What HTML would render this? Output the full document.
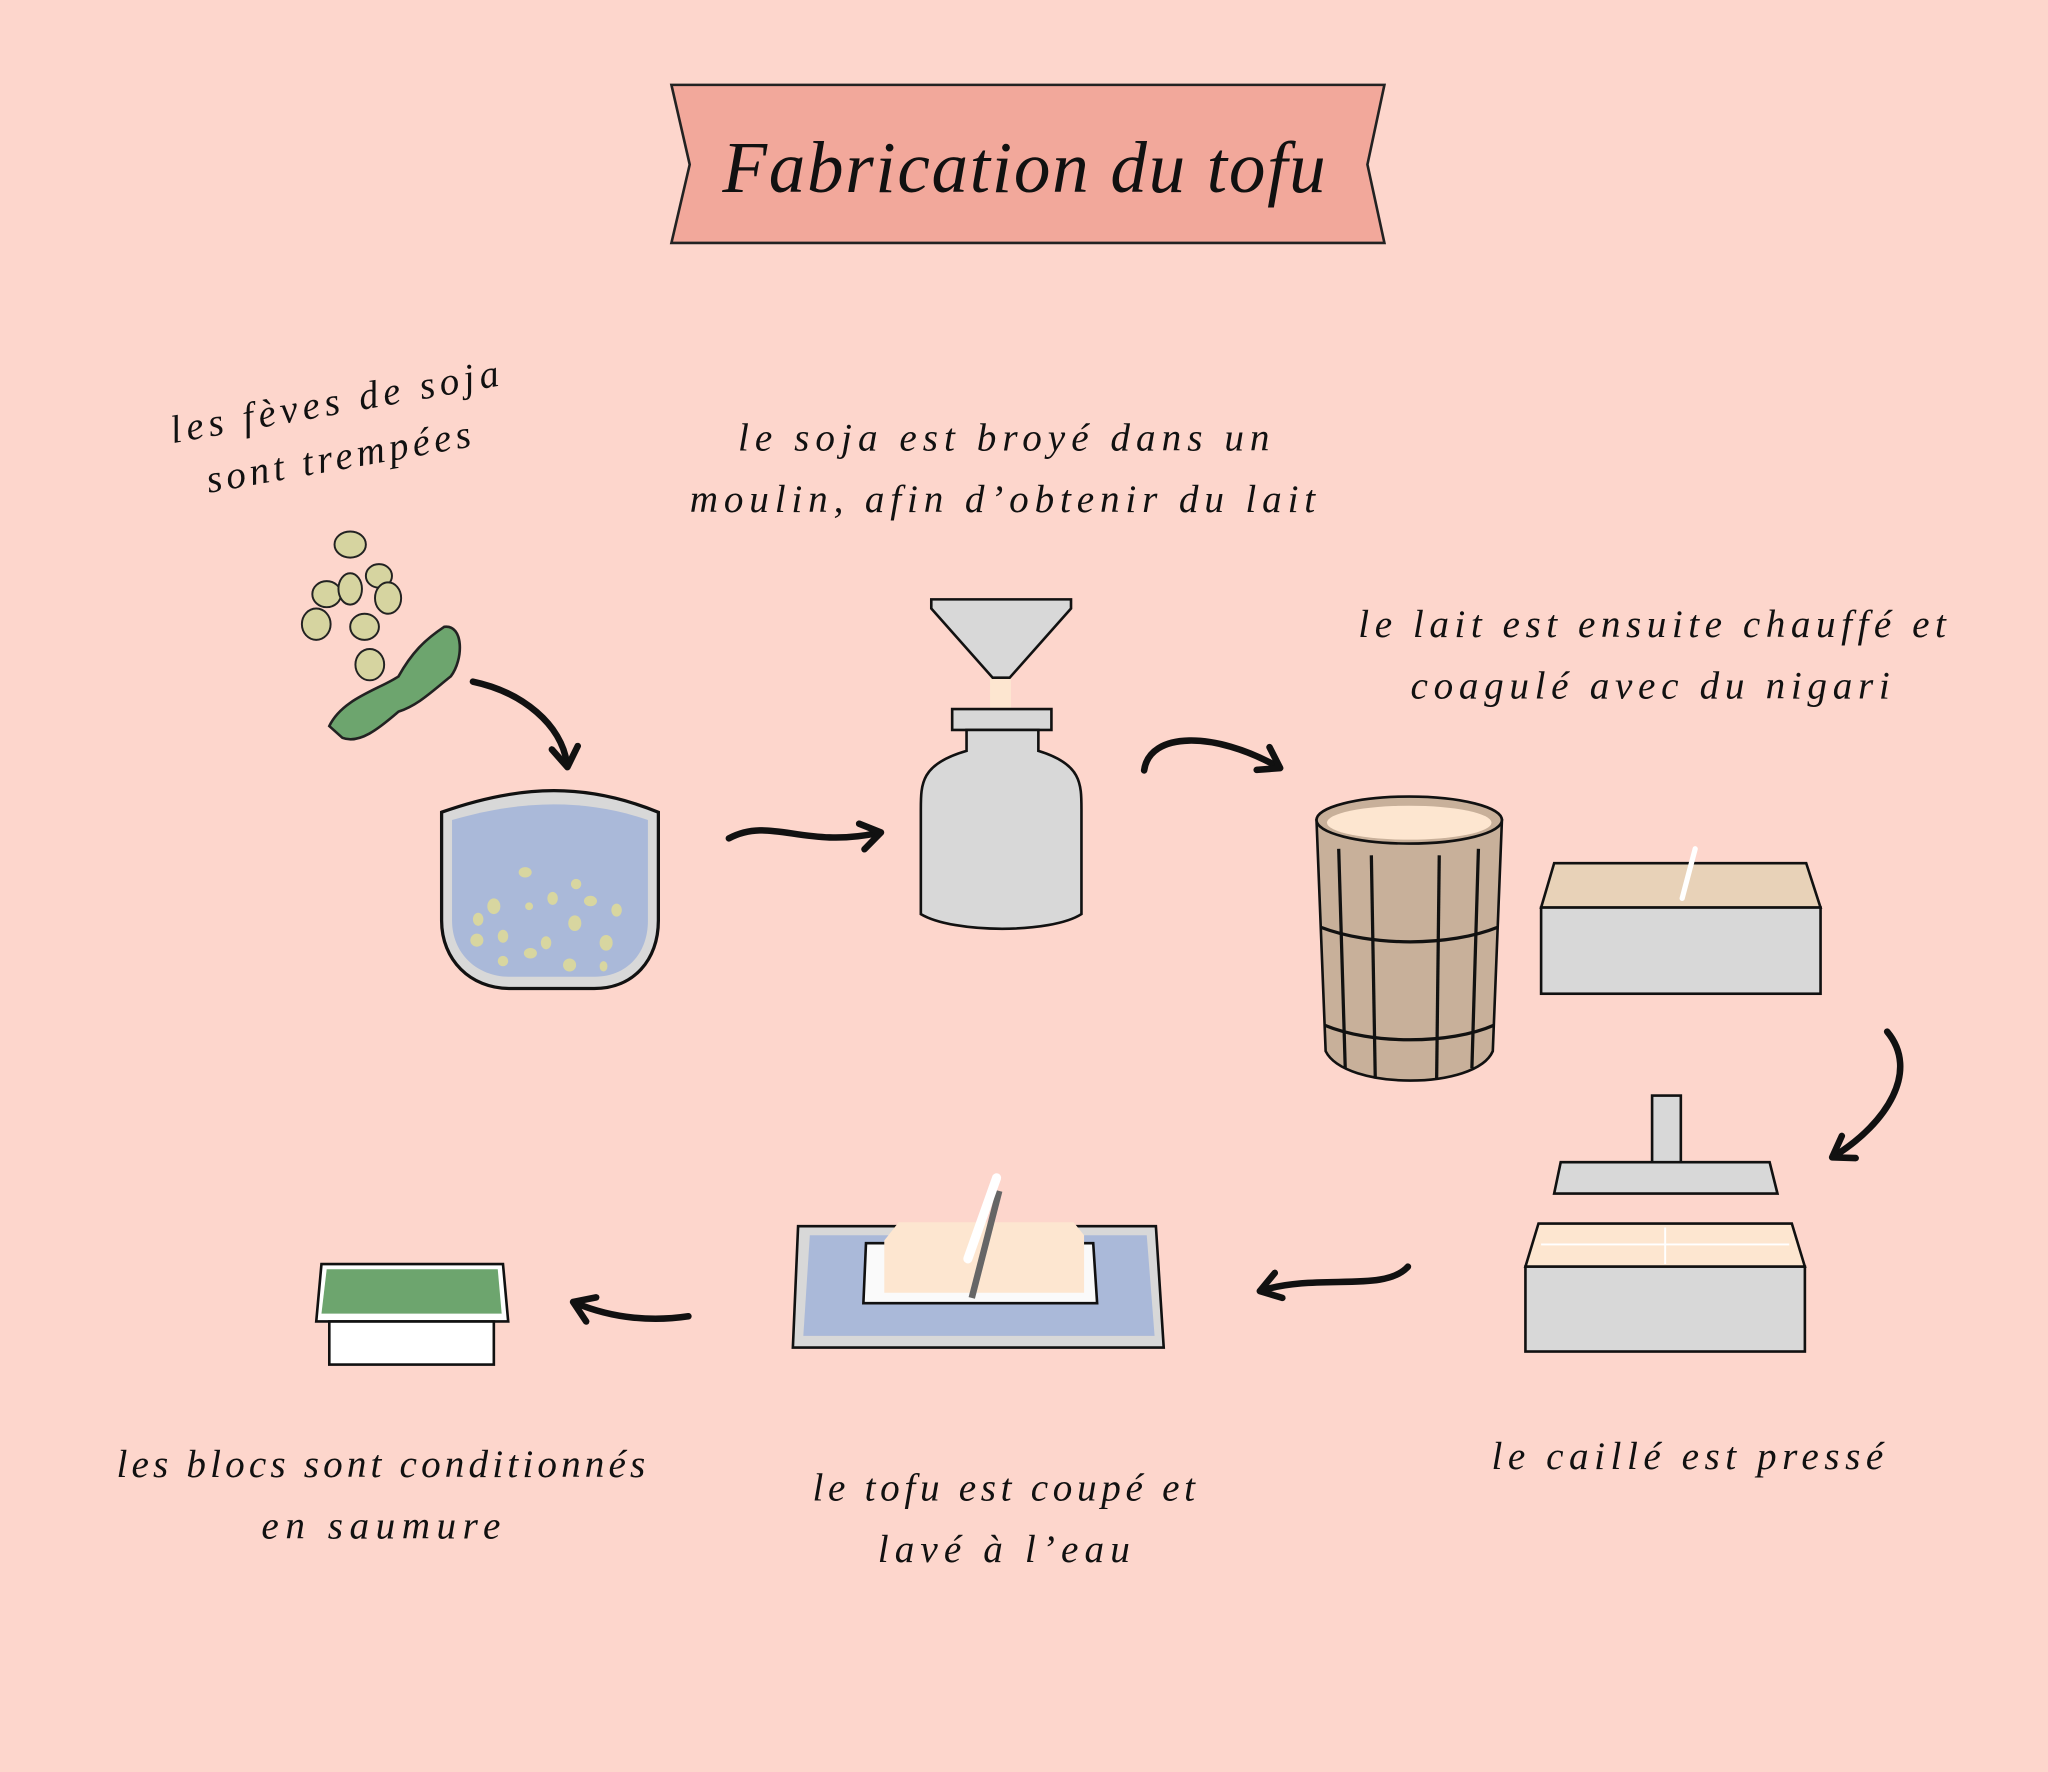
<!DOCTYPE html>
<html><head><meta charset="utf-8"><style>
html,body{margin:0;padding:0;background:#fdd6cc;}
svg{display:block;}
text{font-family:"Liberation Serif","DejaVu Serif",serif;font-style:italic;fill:#111;}
</style></head><body>
<svg width="2048" height="1772" viewBox="0 0 1568 1357" xmlns="http://www.w3.org/2000/svg">
<defs>
<marker id="ah" viewBox="0 0 10 10" refX="6" refY="5" markerWidth="5" markerHeight="5" orient="auto"><path d="M1,1 L7,5 L1,9" fill="none" stroke="#111" stroke-width="2" stroke-linecap="round" stroke-linejoin="round"/></marker>
</defs>
<rect width="1568" height="1357" fill="#fdd6cc"/>
<!-- banner -->
<polygon points="514,65 1060,65 1047,126 1060,186 514,186 528,126" fill="#f2a89b" stroke="#222" stroke-width="2"/>
<text x="553" y="147" font-size="56" textLength="462" lengthAdjust="spacing">Fabrication du tofu</text>
<!-- labels -->
<g font-size="30" lengthAdjust="spacing">
<text x="127" y="318" transform="rotate(-10 252 300)" textLength="255">les fèves de soja</text>
<text x="155" y="360" transform="rotate(-10 257 342)" textLength="205">sont trempées</text>
<text x="565" y="345" textLength="407">le soja est broyé dans un</text>
<text x="528" y="392" textLength="479">moulin, afin d’obtenir du lait</text>
<text x="1040" y="488" textLength="450">le lait est ensuite chauffé et</text>
<text x="1080" y="535" textLength="367">coagulé avec du nigari</text>
<text x="1142" y="1125" textLength="300">le caillé est pressé</text>
<text x="622" y="1149" textLength="293">le tofu est coupé et</text>
<text x="672" y="1196" textLength="193">lavé à l’eau</text>
<text x="89" y="1131" textLength="405">les blocs sont conditionnés</text>
<text x="200" y="1178" textLength="183">en saumure</text>
</g>
<!-- beans -->
<g stroke="#222" stroke-width="1.5" fill="#d6d4a0">
<ellipse cx="268" cy="417" rx="12" ry="10"/>
<ellipse cx="250" cy="455" rx="11" ry="10"/>
<ellipse cx="268" cy="451" rx="9" ry="12"/>
<ellipse cx="290" cy="441" rx="10" ry="9"/>
<ellipse cx="297" cy="458" rx="10" ry="12"/>
<ellipse cx="242" cy="478" rx="11" ry="12"/>
<ellipse cx="279" cy="480" rx="11" ry="10"/>
<ellipse cx="283" cy="509" rx="11" ry="12"/>
</g>
<path d="M252,556 C262,535 290,528 305,518 C315,500 325,490 340,480 C355,478 355,505 345,518 C330,530 320,540 305,545 C290,558 275,570 262,565 Z" fill="#6da56e" stroke="#222" stroke-width="2"/>
<!-- arrows -->
<g fill="none" stroke="#111" stroke-width="5" stroke-linecap="round" marker-end="url(#ah)">
<path d="M362,522 C400,530 430,555 434,585"/>
<path d="M558,642 C590,625 615,650 672,638"/>
<path d="M876,590 C880,560 930,560 978,587"/>
<path d="M1445,790 C1470,820 1445,860 1405,885"/>
<path d="M1078,970 C1060,990 1010,975 967,988"/>
<path d="M527,1008 C500,1012 470,1010 441,998"/>
</g>
<!-- bowl -->
<path d="M338,622 C400,600 450,600 504,622 L504,705 C504,735 485,757 455,757 L390,757 C360,757 338,735 338,705 Z" fill="#d8d8d8" stroke="#111" stroke-width="2.5"/>
<path d="M346,628 C400,612 450,612 496,628 L496,705 C496,730 480,748 455,748 L390,748 C365,748 346,730 346,705 Z" fill="#aab9d9"/>
<g fill="#d8d6a0">
<ellipse cx="402" cy="668" rx="5" ry="4"/><ellipse cx="378" cy="694" rx="5" ry="6"/><ellipse cx="366" cy="704" rx="4" ry="5"/><ellipse cx="423" cy="688" rx="4" ry="5"/><ellipse cx="441" cy="677" rx="4" ry="4"/><ellipse cx="452" cy="690" rx="5" ry="4"/><ellipse cx="440" cy="707" rx="5" ry="6"/><ellipse cx="405" cy="694" rx="3" ry="3"/><ellipse cx="385" cy="717" rx="4" ry="5"/><ellipse cx="365" cy="720" rx="5" ry="5"/><ellipse cx="418" cy="722" rx="4" ry="5"/><ellipse cx="464" cy="722" rx="5" ry="6"/><ellipse cx="406" cy="730" rx="5" ry="4"/><ellipse cx="436" cy="739" rx="5" ry="5"/><ellipse cx="385" cy="736" rx="4" ry="4"/><ellipse cx="472" cy="697" rx="4" ry="5"/><ellipse cx="462" cy="740" rx="3" ry="4"/>
</g>
<!-- grinder -->
<rect x="758" y="516" width="16" height="30" fill="#fde6d0"/>
<polygon points="713,459 820,459 820,466 773,519 760,519 713,466" fill="#d8d8d8" stroke="#111" stroke-width="2"/>
<rect x="729" y="543" width="76" height="16" fill="#d8d8d8" stroke="#111" stroke-width="2"/>
<path d="M740,559 L740,575 C705,585 705,600 705,620 L705,700 C730,715 805,715 828,700 L828,620 C828,600 828,585 795,575 L795,559 Z" fill="#d8d8d8" stroke="#111" stroke-width="2"/>
<!-- barrel -->
<path d="M1008,628 L1015,805 C1030,835 1130,835 1143,805 L1150,628 Z" fill="#c8b09a" stroke="#111" stroke-width="2"/>
<ellipse cx="1079" cy="628" rx="71" ry="18" fill="#c8b09a" stroke="#111" stroke-width="2"/>
<ellipse cx="1079" cy="630" rx="63" ry="13" fill="#fde6d0"/>
<g stroke="#111" stroke-width="2.5" fill="none">
<path d="M1011,710 C1050,725 1110,725 1147,710"/>
<path d="M1014,785 C1050,800 1110,800 1144,785"/>
<path d="M1025,650 L1030,818"/><path d="M1050,655 L1053,826"/><path d="M1102,655 L1100,826"/><path d="M1132,650 L1127,818"/>
</g>
<!-- tray -->
<polygon points="1190,661 1383,661 1394,695 1180,695" fill="#e8d2b8" stroke="#111" stroke-width="2"/>
<rect x="1180" y="695" width="214" height="66" fill="#d8d8d8" stroke="#111" stroke-width="2"/>
<line x1="1298" y1="650" x2="1288" y2="688" stroke="#fff" stroke-width="4" stroke-linecap="round"/>
<!-- press -->
<rect x="1265" y="839" width="22" height="62" fill="#d8d8d8" stroke="#111" stroke-width="2"/>
<polygon points="1195,890 1355,890 1361,914 1190,914" fill="#d8d8d8" stroke="#111" stroke-width="2"/>
<polygon points="1178,937 1372,937 1382,970 1168,970" fill="#fde6d0" stroke="#111" stroke-width="2"/>
<path d="M1275,940 L1275,968 M1180,953 L1370,953" stroke="#fff" stroke-width="1.5"/>
<rect x="1168" y="970" width="214" height="65" fill="#d8d8d8" stroke="#111" stroke-width="2"/>
<!-- cutting tray -->
<polygon points="611,939 885,939 891,1032 607,1032" fill="#d8d8d8" stroke="#111" stroke-width="2"/>
<polygon points="620,946 878,946 884,1023 615,1023" fill="#aab9d9"/>
<polygon points="663,952 837,952 840,998 661,998" fill="#fafafa" stroke="#111" stroke-width="2"/>
<polygon points="688,936 822,936 830,946 830,990 677,990 677,950" fill="#fde6d0"/>
<g stroke="#666" stroke-width="5"><line x1="765" y1="912" x2="744" y2="994"/></g>
<line x1="763" y1="902" x2="741" y2="964" stroke="#fff" stroke-width="7" stroke-linecap="round"/>
<!-- package -->
<polygon points="246,968 385,968 389,1012 242,1012" fill="#fff" stroke="#111" stroke-width="2"/>
<polygon points="250,972 381,972 384,1006 246,1006" fill="#6da56e"/>
<rect x="252" y="1012" width="126" height="33" fill="#fff" stroke="#111" stroke-width="2"/>
</svg>
</body></html>
